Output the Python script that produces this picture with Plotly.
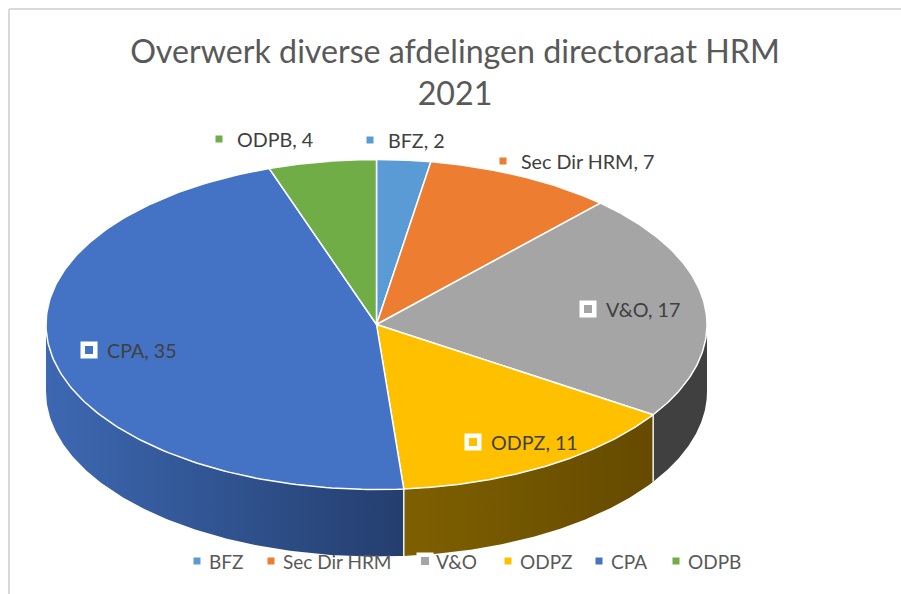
import numpy as np
import plotly.graph_objects as go

# --- data ---
categories = ["BFZ", "Sec Dir HRM", "V&O", "ODPZ", "CPA", "ODPB"]
values = [2, 7, 17, 11, 35, 4]
title_lines = ["Overwerk diverse afdelingen directoraat HRM", "2021"]

# --- styles ---
top_colors = ["#5b9bd5", "#ed7d31", "#a5a5a5", "#ffc000", "#4472c4", "#70ad47"]
side_gradients = {
    "V&O": ("#404040", "#404040"),
    "ODPZ": ("#7f6000", "#654a00"),
    "CPA": ("#3d68b2", "#243e6e"),
}
FONT = "Lato"

# --- layout geometry (pixels in a 901x594 canvas) ---
W, H = 901, 594
CX, CY, RX, RY, DEPTH = 376.5, 324.5, 330.5, 165, 67
label_anchor = {
    "BFZ": (370, 140, False), "Sec Dir HRM": (503, 161, False), "V&O": (588, 309, True),
    "ODPZ": (473, 442, True), "CPA": (89, 350, True), "ODPB": (219, 139, False),
}
legend_anchor = {"BFZ": 197, "Sec Dir HRM": 271, "V&O": 425, "ODPZ": 508, "CPA": 599, "ODPB": 676}
LEGEND_Y = 561


def pt(theta_deg, drop=0.0):
    t = np.radians(theta_deg)
    return CX + RX * np.sin(t), CY - RY * np.cos(t) + drop


fig = go.Figure()
total = sum(values)
edges = np.concatenate([[0], np.cumsum(values)]) / total * 360

# side walls (only the part of the rim facing the viewer, theta 90..270)
for i, name in enumerate(categories):
    a, b = max(edges[i], 90), min(edges[i + 1], 270)
    if a >= b:
        continue
    th = np.linspace(a, b, 120)
    x0, y0 = pt(th)
    x1, y1 = pt(th[::-1], DEPTH)
    xs = np.concatenate([x0, x1, x0[:1]])
    ys = np.concatenate([y0, y1, y0[:1]])
    c = side_gradients[name]
    fig.add_trace(go.Scatter(
        x=xs, y=ys, mode="lines", fill="toself", line=dict(width=0, color=c[0]),
        fillgradient=dict(type="horizontal", colorscale=[[0, c[0]], [1, c[1]]]),
        hoverinfo="skip",
    ))

# vertical seams on the rim
for e in edges[1:-1]:
    if 90 < e < 270:
        x0, y0 = pt(e)
        x1, y1 = pt(e, DEPTH)
        fig.add_trace(go.Scatter(x=[x0, x1], y=[y0, y1], mode="lines",
                                 line=dict(color="#f2f2f2", width=1.5), hoverinfo="skip"))

# top face slices
for i, name in enumerate(categories):
    th = np.linspace(edges[i], edges[i + 1], 160)
    xa, ya = pt(th)
    xs = np.concatenate([[CX], xa, [CX]])
    ys = np.concatenate([[CY], ya, [CY]])
    fig.add_trace(go.Scatter(
        x=xs, y=ys, mode="lines", fill="toself", fillcolor=top_colors[i],
        line=dict(color="#ffffff", width=1.5), name=name,
        text=f"{name}, {values[i]}", hoverinfo="text",
    ))

# data labels
for i, name in enumerate(categories):
    mx, my, boxed = label_anchor[name]
    fig.add_trace(go.Scatter(
        x=[mx], y=[my], mode="markers",
        marker=dict(symbol="square", size=12.5 if boxed else 7, color=top_colors[i],
                    line=dict(color="#ffffff", width=4.5 if boxed else 0)),
        hoverinfo="skip",
    ))
    fig.add_annotation(x=mx + 18.5, y=my, text=f"{name}, {values[i]}", showarrow=False,
                       xanchor="left", yanchor="middle", xshift=-3,
                       font=dict(family=FONT, size=19.7, color="#404040"))

# bottom legend row
for i, name in enumerate(categories):
    lx = legend_anchor[name]
    boxed = name == "V&O"
    fig.add_trace(go.Scatter(
        x=[lx], y=[LEGEND_Y], mode="markers",
        marker=dict(symbol="square", size=12.5 if boxed else 7, color=top_colors[i],
                    line=dict(color="#ffffff", width=4.5 if boxed else 0)),
        hoverinfo="skip",
    ))
    fig.add_annotation(x=lx + (12 if not boxed else 11), y=LEGEND_Y, text=name, showarrow=False,
                       xanchor="left", yanchor="middle", xshift=-2.5,
                       font=dict(family=FONT, size=19, color="#595959"))

# chart-area frame (left and top borders show inside the crop)
frame = dict(color="#d9d9d9", width=2)
fig.add_shape(type="line", x0=9, x1=9, y0=9, y1=H, line=frame)
fig.add_shape(type="line", x0=9, x1=W, y0=9, y1=9, line=frame)

fig.update_layout(
    width=W, height=H, margin=dict(l=0, r=0, t=0, b=0),
    paper_bgcolor="white", plot_bgcolor="white", showlegend=False,
    title=dict(text="<br>".join(title_lines), x=455 / W, xanchor="center",
               y=1 - 63 / H, yanchor="top",
               font=dict(family=FONT, size=32.2, color="#595959")),
    xaxis=dict(range=[0, W], visible=False, fixedrange=True),
    yaxis=dict(range=[H, 0], visible=False, fixedrange=True),
)
fig.write_html("out.html", config={"displayModeBar": False},
               post_script="document.body.style.margin='0';")
